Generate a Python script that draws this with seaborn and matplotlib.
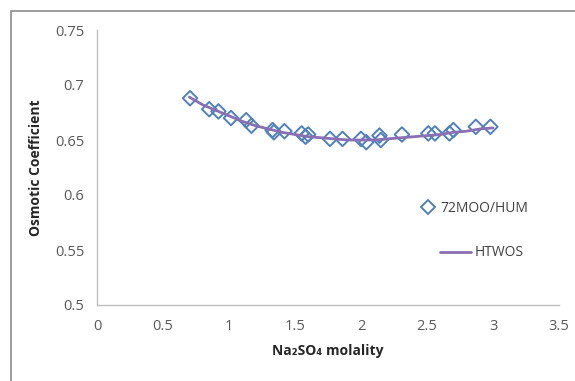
import matplotlib
matplotlib.use("Agg")
import matplotlib.pyplot as plt
import seaborn as sns
import pandas as pd
from matplotlib.patches import Rectangle
from matplotlib.lines import Line2D

# Experimental data (72MOO/HUM)
exp_molality = [0.705, 0.85, 0.92, 1.015, 1.13, 1.17, 1.33, 1.34, 1.42, 1.55, 1.58, 1.60,
                1.765, 1.86, 2.00, 2.04, 2.14, 2.15, 2.31, 2.51, 2.56, 2.67, 2.70, 2.87, 2.98]
exp_phi = [0.688, 0.678, 0.676, 0.670, 0.668, 0.663, 0.659, 0.657, 0.658, 0.656, 0.653, 0.655,
           0.651, 0.651, 0.651, 0.648, 0.654, 0.650, 0.655, 0.656, 0.656, 0.656, 0.659, 0.662, 0.662]

# Model curve (HTWOS)
model_molality = [0.7, 0.8, 0.9, 1.0, 1.1, 1.2, 1.3, 1.4, 1.5, 1.6, 1.7, 1.8, 1.9, 2.0,
                  2.1, 2.2, 2.3, 2.4, 2.5, 2.6, 2.7, 2.8, 2.9, 3.0]
model_phi = [0.689, 0.682, 0.677, 0.672, 0.667, 0.663, 0.660, 0.657, 0.655, 0.653, 0.652,
             0.651, 0.650, 0.650, 0.650, 0.651, 0.652, 0.653, 0.654, 0.655, 0.657, 0.658, 0.660, 0.661]

x_ticks = [0, 0.5, 1, 1.5, 2, 2.5, 3, 3.5]
x_ticklabels = ["0", "0.5", "1", "1.5", "2", "2.5", "3", "3.5"]
y_ticks = [0.5, 0.55, 0.6, 0.65, 0.7, 0.75]
y_ticklabels = ["0.5", "0.55", "0.6", "0.65", "0.7", "0.75"]

exp_df = pd.DataFrame({"m": exp_molality, "phi": exp_phi})
mod_df = pd.DataFrame({"m": model_molality, "phi": model_phi})

sns.set_style("white")
plt.rcParams["font.family"] = ["Open Sans", "DejaVu Sans"]

fig = plt.figure(figsize=(5.75, 3.81), dpi=100)
ax = fig.add_axes([97/575, 1-305/381, (559-97)/575, (305-30)/381])

blue = "#4F81BD"
purple = "#8A6FB3"

sns.scatterplot(data=exp_df, x="m", y="phi", ax=ax, marker="D", s=55,
                facecolor="none", edgecolor=blue, linewidth=1.4, zorder=3, legend=False)
sns.lineplot(data=mod_df, x="m", y="phi", ax=ax, color=purple, linewidth=2,
             zorder=4, legend=False, sort=False, estimator=None)

ax.set_xlim(0, 3.5)
ax.set_ylim(0.5, 0.75)
ax.set_xticks(x_ticks)
ax.set_xticklabels(x_ticklabels)
ax.set_yticks(y_ticks)
ax.set_yticklabels(y_ticklabels)

for s in ["top", "right"]:
    ax.spines[s].set_visible(False)
for s in ["left", "bottom"]:
    ax.spines[s].set_color("#BFBFBF")
    ax.spines[s].set_linewidth(1)
ax.tick_params(axis="both", colors="#BFBFBF", labelcolor="#595959", labelsize=10.5,
               length=5, width=1, direction="out")
ax.tick_params(axis="x", pad=5)
ax.tick_params(axis="y", pad=4)

ax.set_xlabel("Na₂SO₄ molality", fontsize=10, fontweight="bold", color="#262626", labelpad=7)
ax.set_ylabel("Osmotic Coefficient", fontsize=10, fontweight="bold", color="#262626", labelpad=9)

# Legends
h1 = Line2D([], [], marker="D", linestyle="none", markerfacecolor="none",
            markeredgecolor=blue, markeredgewidth=1.4, markersize=7)
leg1 = ax.legend([h1], ["72MOO/HUM"], loc="center left",
                 bbox_to_anchor=(421/575, 1-208/381), bbox_transform=fig.transFigure,
                 frameon=False, handlelength=1.0, handletextpad=0.4, fontsize=10,
                 labelcolor="#404040", borderaxespad=0, borderpad=0)
ax.add_artist(leg1)
h2 = Line2D([], [], color=purple, linewidth=2)
leg2 = ax.legend([h2], ["HTWOS"], loc="center left",
                 bbox_to_anchor=(440/575, 1-253/381), bbox_transform=fig.transFigure,
                 frameon=False, handlelength=2.2, handletextpad=0.3, fontsize=10,
                 labelcolor="#404040", borderaxespad=0, borderpad=0)

# Outer chart border
fig.patches.append(Rectangle((11/575, -0.1), 1.2, 1-11/381+0.1, transform=fig.transFigure,
                             fill=False, edgecolor="#8C8C8C", linewidth=1.2))

fig.savefig("out.png", dpi=100)
